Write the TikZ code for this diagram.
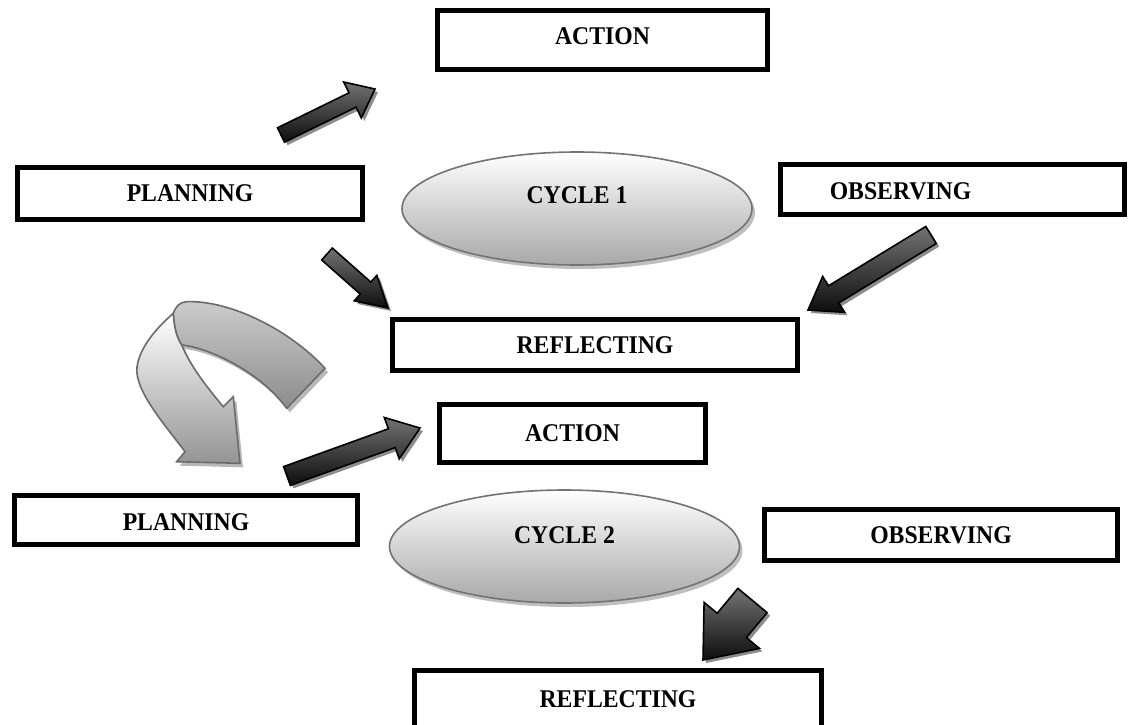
\documentclass[tikz,border=0pt]{standalone}
\usepackage{fontspec}
\setmainfont{Liberation Serif}
\newfontfamily\lblfont[FakeStretch=0.93]{Liberation Serif}
\usetikzlibrary{calc,shadows,shapes.geometric}

\tikzset{
  txt/.style={font=\lblfont\bfseries\fontsize{25.5}{30}\selectfont},
  box/.style={txt, rectangle, draw=black, line width=5pt, fill=white, inner sep=0pt,
    drop shadow={shadow xshift=2.5pt, shadow yshift=-2.5pt, fill=black!40, opacity=1}},
  cyclenode/.style={ellipse, draw=black!55, line width=1.6pt, top color=white, bottom color=black!34,
    inner sep=0pt, minimum width=350pt, minimum height=113pt,
    drop shadow={shadow xshift=3pt, shadow yshift=-4pt, fill=black!25, opacity=1}},
  darkarrow/.style={draw=black, line width=1.6pt, top color=black!55, bottom color=black!95,
    drop shadow={shadow xshift=3pt, shadow yshift=-3pt, fill=black!45, opacity=1}},
  uturnline/.style={draw=black!58, line width=1.6pt},
}

% #1 tail, #2 tip, #3 half shaft width, #4 half head width, #5 head length
\newcommand{\blkarrow}[5]{%
  \coordinate (bah) at ($(#2)!#5!(#1)$);
  \path[darkarrow] ($(#1)!#3!90:(#2)$) -- ($(bah)!#3!90:(#2)$) -- ($(bah)!#4!90:(#2)$)
    -- (#2) -- ($(bah)!#4!-90:(#2)$) -- ($(bah)!#3!-90:(#2)$) -- ($(#1)!#3!-90:(#2)$) -- cycle;
}

\begin{document}
\begin{tikzpicture}[x=1pt,y=-1pt]
\useasboundingbox (0,0) rectangle (1129,725);

% ---------- ellipses ----------
\node[cyclenode, label={[txt, yshift=13pt]center:CYCLE 1}] (cyc1) at (577,208.5) {};
\node[cyclenode, label={[txt, yshift=11pt]center:CYCLE 2}] (cyc2) at (564.5,546.5) {};

% ---------- boxes ----------
\node[box, minimum width=330pt, minimum height=59pt,
      label={[txt, yshift=4pt]center:ACTION}] (act1) at (602.5,40) {};
\node[box, minimum width=345pt, minimum height=52pt] (plan1) at (190,193.5) {PLANNING};
\node[box, minimum width=344pt, minimum height=50pt,
      label={[txt, xshift=-52pt, yshift=-2pt]center:OBSERVING}] (obs1) at (952.5,189.5) {};
\node[box, minimum width=405pt, minimum height=51pt] (ref1) at (595,345) {REFLECTING};
\node[box, minimum width=266pt, minimum height=58pt] (act2) at (572.5,433.5) {ACTION};
\node[box, minimum width=343pt, minimum height=49pt,
      label={[txt, yshift=-2pt]center:PLANNING}] (plan2) at (186,520) {};
\node[box, minimum width=353pt, minimum height=51pt] (obs2) at (941,535) {OBSERVING};
\node[box, minimum width=407pt, minimum height=56.5pt] (ref2) at (618,698.75) {REFLECTING};

% ---------- block arrows ----------
\coordinate (a1s) at (281,135);   \coordinate (a1e) at (375,89);
\coordinate (a2s) at (327,254);   \coordinate (a2e) at (388,308);
\coordinate (a3s) at (287,476);   \coordinate (a3e) at (420,428);
\coordinate (a4s) at (931,235);   \coordinate (a4e) at (808,310);
\coordinate (a5s) at (752.5,600.5); \coordinate (a5e) at (703,660);

\blkarrow{a1s}{a1e}{8pt}{20pt}{25pt}
\blkarrow{a2s}{a2e}{8pt}{17pt}{30pt}
\blkarrow{a3s}{a3e}{10pt}{22pt}{30pt}
\blkarrow{a4s}{a4e}{10pt}{21pt}{30pt}
\blkarrow{a5s}{a5e}{19pt}{36pt}{45pt}

% ---------- curved U-turn arrow ----------
\begin{scope}[shift={(3,4)}]
  \fill[black!28] (325,368.3) .. controls (290,330) and (230,300) .. (186.7,301.7)
    .. controls (180,302) and (176,306) .. (173.3,313.3)
    .. controls (174,328) and (177,338) .. (181.7,345)
    .. controls (210,348) and (260,372) .. (286.7,408.3) -- cycle;
  \fill[black!28] (173.3,313.3) .. controls (160,325) and (140,345) .. (137,367)
    .. controls (134,390) and (165,425) .. (185,451.7) -- (176.7,461.7) -- (240,463.3)
    -- (233.3,396.7) -- (223.3,406.7) .. controls (205,385) and (190,365) .. (181.7,345)
    .. controls (177,338) and (174,328) .. (173.3,313.3) -- cycle;
\end{scope}
\path[uturnline, top color=black!20, bottom color=black!45]
  (325,368.3) .. controls (290,330) and (230,300) .. (186.7,301.7)
    .. controls (180,302) and (176,306) .. (173.3,313.3)
    .. controls (174,328) and (177,338) .. (181.7,345)
    .. controls (210,348) and (260,372) .. (286.7,408.3) -- cycle;
\path[uturnline, top color=white, bottom color=black!42]
  (173.3,313.3) .. controls (160,325) and (140,345) .. (137,367)
    .. controls (134,390) and (165,425) .. (185,451.7) -- (176.7,461.7) -- (240,463.3)
    -- (233.3,396.7) -- (223.3,406.7) .. controls (205,385) and (190,365) .. (181.7,345)
    .. controls (177,338) and (174,328) .. (173.3,313.3) -- cycle;
\end{tikzpicture}
\end{document}
